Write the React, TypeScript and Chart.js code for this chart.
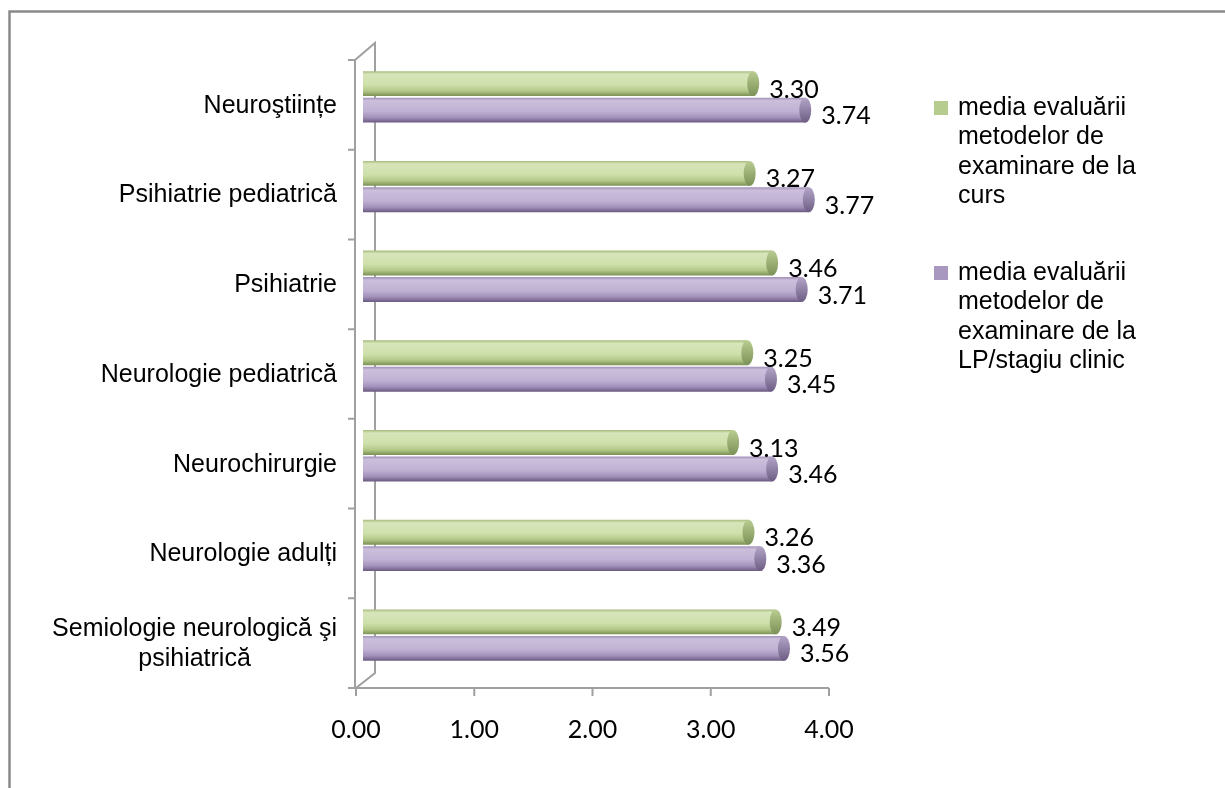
import React, { useEffect, useRef } from "react";
import { Chart, registerables } from "chart.js";

Chart.register(...registerables);

// ---- data ----
const categories: string[][] = [
  ["Neuroştiințe"],
  ["Psihiatrie pediatrică"],
  ["Psihiatrie"],
  ["Neurologie pediatrică"],
  ["Neurochirurgie"],
  ["Neurologie adulți"],
  ["Semiologie neurologică şi", "psihiatrică"],
];
const seriesCursName = "media evaluării metodelor de examinare de la curs";
const seriesLPName = "media evaluării metodelor de examinare de la LP/stagiu clinic";
const seriesCurs = [3.3, 3.27, 3.46, 3.25, 3.13, 3.26, 3.49];
const seriesLP = [3.74, 3.77, 3.71, 3.45, 3.46, 3.36, 3.56];
const xTicks = [0, 1, 2, 3, 4];

// ---- styles ----
const W = 1225;
const H = 788;
const DX = 7; // 3D depth shift of bars
const DY = -8;
const AXIS = "#a0a0a0";
const CAT_FONT = "25px 'Liberation Sans', Arial, sans-serif";
const NUM_FONT = "25px Lato, 'Open Sans', sans-serif";

const palettes = [
  {
    body: ["#a6bb7b", "#d7e5ba", "#cfe0ab", "#b2c787", "#7a9055"],
    cap: ["#b9cc92", "#7c9157"],
    legend: "#b6cc8e",
  },
  {
    body: ["#a090b7", "#cbbfdc", "#bfb1d3", "#a290ba", "#695980"],
    cap: ["#b3a5c8", "#6d5d84"],
    legend: "#a898c0",
  },
];

function wrapText(ctx: CanvasRenderingContext2D, text: string, maxW: number): string[] {
  const words = text.split(" ");
  const lines: string[] = [];
  let cur = "";
  for (const w of words) {
    const t = cur ? cur + " " + w : w;
    if (ctx.measureText(t).width > maxW && cur) {
      lines.push(cur);
      cur = w;
    } else cur = t;
  }
  if (cur) lines.push(cur);
  return lines;
}

const decoPlugin = {
  id: "deco",
  beforeDatasetsDraw(chart: any) {
    const ctx: CanvasRenderingContext2D = chart.ctx;
    const xs = chart.scales.x;
    const ys = chart.scales.y;
    const top = ys.top;
    const bottom = ys.bottom;
    const x0 = xs.getPixelForValue(0);
    const backX = x0 + 19;
    // outer frame
    ctx.save();
    ctx.strokeStyle = "#8a8a8a";
    ctx.lineWidth = 2.5;
    ctx.beginPath();
    ctx.moveTo(9.5, H + 5);
    ctx.lineTo(9.5, 11.5);
    ctx.lineTo(W + 5, 11.5);
    ctx.stroke();
    // back wall / depth lines
    ctx.strokeStyle = AXIS;
    ctx.lineWidth = 2;
    ctx.beginPath();
    ctx.moveTo(x0 - 1, top);
    ctx.lineTo(backX, top - 17);
    ctx.lineTo(backX, bottom - 15);
    ctx.lineTo(x0, bottom);
    ctx.stroke();
    ctx.restore();

    // per-bar cylinder gradients
    chart.data.datasets.forEach((ds: any, di: number) => {
      const meta = chart.getDatasetMeta(di);
      const pal = palettes[di];
      meta.data.forEach((el: any) => {
        const h = el.height;
        const g = ctx.createLinearGradient(0, el.y - h / 2, 0, el.y + h / 2);
        g.addColorStop(0, pal.body[0]);
        g.addColorStop(0.12, pal.body[1]);
        g.addColorStop(0.55, pal.body[2]);
        g.addColorStop(0.8, pal.body[3]);
        g.addColorStop(1, pal.body[4]);
        el.options = Object.assign({}, el.options, { backgroundColor: g });
      });
    });
    ctx.save();
    ctx.translate(DX, DY);
  },
  afterDatasetsDraw(chart: any) {
    const ctx: CanvasRenderingContext2D = chart.ctx;
    chart.data.datasets.forEach((ds: any, di: number) => {
      const meta = chart.getDatasetMeta(di);
      const pal = palettes[di];
      meta.data.forEach((el: any, i: number) => {
        const h = el.height;
        const g = ctx.createLinearGradient(0, el.y - h / 2, 0, el.y + h / 2);
        g.addColorStop(0, pal.cap[0]);
        g.addColorStop(1, pal.cap[1]);
        ctx.fillStyle = g;
        ctx.beginPath();
        ctx.ellipse(el.x, el.y, 6, h / 2, 0, 0, Math.PI * 2);
        ctx.fill();
        ctx.fillStyle = "#000";
        ctx.font = NUM_FONT;
        ctx.textAlign = "left";
        ctx.textBaseline = "middle";
        ctx.fillText(Number(ds.data[i]).toFixed(2), el.x + 16, el.y + 6);
      });
    });
    ctx.restore();
  },
  afterDraw(chart: any) {
    const ctx: CanvasRenderingContext2D = chart.ctx;
    const xs = chart.scales.x;
    const ys = chart.scales.y;
    const x0 = xs.getPixelForValue(0);
    const top = ys.top;
    const bottom = ys.bottom;
    const n = categories.length;
    const band = (bottom - top) / n;
    ctx.save();
    // front axes
    ctx.strokeStyle = AXIS;
    ctx.lineWidth = 2;
    ctx.beginPath();
    ctx.moveTo(x0 - 1, top);
    ctx.lineTo(x0 - 1, bottom);
    ctx.lineTo(xs.getPixelForValue(xTicks[xTicks.length - 1]), bottom);
    for (let k = 0; k <= n; k++) {
      const y = top + band * k;
      ctx.moveTo(x0 - 8, y);
      ctx.lineTo(x0 - 1, y);
    }
    xTicks.forEach((t) => {
      const x = xs.getPixelForValue(t);
      ctx.moveTo(x, bottom);
      ctx.lineTo(x, bottom + 8);
    });
    ctx.stroke();

    // x tick labels
    ctx.fillStyle = "#000";
    ctx.font = NUM_FONT;
    ctx.textAlign = "center";
    ctx.textBaseline = "middle";
    xTicks.forEach((t) => {
      ctx.fillText(t.toFixed(2), xs.getPixelForValue(t), bottom + 42);
    });

    // category labels (block right-aligned, lines centred)
    ctx.font = CAT_FONT;
    const rightEdge = x0 - 19;
    categories.forEach((lines, i) => {
      const cy = ys.getPixelForValue(i) + 1;
      const maxW = Math.max(...lines.map((l) => ctx.measureText(l).width));
      const cx = rightEdge - maxW / 2;
      const lh = 30;
      lines.forEach((l, j) => {
        ctx.fillText(l, cx, cy + (j - (lines.length - 1) / 2) * lh);
      });
    });

    // legend
    const lx = xs.right + 105;
    const starts = [top + 48, top + 213];
    chart.data.datasets.forEach((ds: any, di: number) => {
      const lines = wrapText(ctx, ds.label, 185);
      const y0 = starts[di];
      ctx.fillStyle = palettes[di].legend;
      ctx.fillRect(lx, y0 - 7, 14, 14);
      ctx.fillStyle = "#000";
      ctx.textAlign = "left";
      lines.forEach((l, j) => {
        ctx.fillText(l, lx + 24, y0 + j * 29.5);
      });
    });
    ctx.restore();
  },
};

export default function App() {
  const ref = useRef<HTMLCanvasElement | null>(null);
  useEffect(() => {
    if (!ref.current) return;
    const chart = new Chart(ref.current, {
      type: "bar",
      data: {
        labels: categories.map((c) => c.join(" ")),
        datasets: [
          {
            label: seriesCursName,
            data: seriesCurs,
            backgroundColor: "#c3d69b",
            borderWidth: 0,
            categoryPercentage: 0.59,
            barPercentage: 0.94,
          },
          {
            label: seriesLPName,
            data: seriesLP,
            backgroundColor: "#b3a2c7",
            borderWidth: 0,
            categoryPercentage: 0.59,
            barPercentage: 0.94,
          },
        ],
      },
      options: {
        indexAxis: "y",
        animation: false,
        responsive: false,
        devicePixelRatio: 1,
        clip: false as any,
        layout: { padding: { left: 356, right: W - 829, top: 60, bottom: H - 688 } },
        plugins: {
          legend: { display: false },
          tooltip: { enabled: false },
        },
        scales: {
          x: { display: false, min: 0, max: 4 },
          y: { display: false },
        },
      },
      plugins: [decoPlugin],
    });
    return () => chart.destroy();
  }, []);
  return (
    <div style={{ position: "absolute", left: 0, top: 0, width: W, height: H, background: "#fff" }}>
      <canvas ref={ref} width={W} height={H} style={{ width: W, height: H, display: "block" }} />
    </div>
  );
}
